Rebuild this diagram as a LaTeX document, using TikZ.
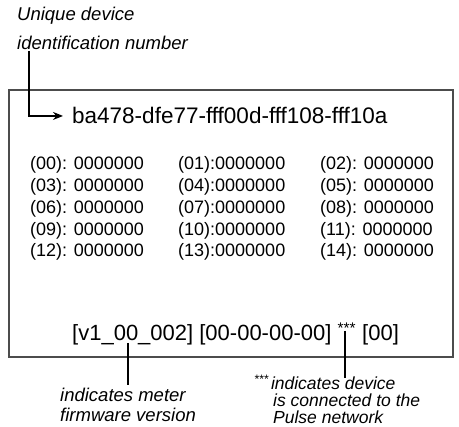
\documentclass[tikz,border=0pt]{standalone}
\usepackage{fontspec}
\setmainfont{Liberation Sans}
\usetikzlibrary{arrows.meta}

\begin{document}
\begin{tikzpicture}[x=1pt, y=-1pt,
  note/.style={font=\fontsize{18.5}{20}\selectfont\itshape, anchor=base west, inner sep=0pt},
  smallnote/.style={font=\fontsize{17.5}{17}\selectfont\itshape, anchor=base west, inner sep=0pt},
  idtext/.style={font=\fontsize{22.5}{26}\selectfont, anchor=base west, inner sep=0pt},
  reg/.style={font=\fontsize{18}{21}\selectfont, anchor=base west, inner sep=0pt},
  status/.style={font=\fontsize{22}{26}\selectfont, anchor=base west, inner sep=0pt},
  leader/.style={line width=1.8pt, black},
  pointer/.style={line width=1.6pt, black, -{Stealth[length=10pt, width=8pt]}},
  screen/.style={line width=1.2pt, black!70}
]
\useasboundingbox (0,0) rectangle (459,427);

%% --- top note ---
\node[note] (idnote1) at (17,21)   {Unique device};
\node[note] (idnote2) at (17,49.5) {identification number};

%% --- display frame ---
\draw[screen] (9,90) rectangle (453,357);

%% --- device id ---
\node[idtext] (idnum) at (72,124) {ba478-dfe77-fff00d-fff108-fff10a};
\coordinate (idfoot) at (29,51);
\draw[pointer, shorten >=9pt] (idfoot) |- (idnum.west);

%% --- register table ---
\node[reg] (r00) at (30,170)    {(00): 0000000};
\node[reg] (r01) at (178,170)   {(01):0000000};
\node[reg] (r02) at (320,170)   {(02): 0000000};
\node[reg] (r03) at (30,191.7)  {(03): 0000000};
\node[reg] (r04) at (178,191.7) {(04):0000000};
\node[reg] (r05) at (320,191.7) {(05): 0000000};
\node[reg] (r06) at (30,213.4)  {(06): 0000000};
\node[reg] (r07) at (178,213.4) {(07):0000000};
\node[reg] (r08) at (320,213.4) {(08): 0000000};
\node[reg] (r09) at (30,235.1)  {(09): 0000000};
\node[reg] (r10) at (178,235.1) {(10):0000000};
\node[reg] (r11) at (320,235.1) {(11): 0000000};
\node[reg] (r12) at (30,256.8)  {(12): 0000000};
\node[reg] (r13) at (178,256.8) {(13):0000000};
\node[reg] (r14) at (320,256.8) {(14): 0000000};

%% --- status line ---
\node[status] (state) at (72,341)
  {[v1\_00\_002] [00-00-00-00] \textsuperscript{***} [00]};

%% --- firmware note ---
\coordinate (fwtip)  at (128,343);
\coordinate (fwfoot) at (128,385);
\draw[leader] (fwtip) -- (fwfoot);
\node[note] (fwnote1) at (60,401.7) {indicates meter};
\node[note] (fwnote2) at (60,421.7) {firmware version};

%% --- network note ---
\coordinate (nettip)  at (345,331);
\coordinate (netfoot) at (345,378);
\draw[leader] (nettip) -- (netfoot);
\node[smallnote] (netnote1) at (254,390) {\textsuperscript{***}\hspace{2pt}indicates device};
\node[smallnote] (netnote2) at (273,407) {is connected to the};
\node[smallnote] (netnote3) at (273,424) {Pulse network};

\end{tikzpicture}
\end{document}
